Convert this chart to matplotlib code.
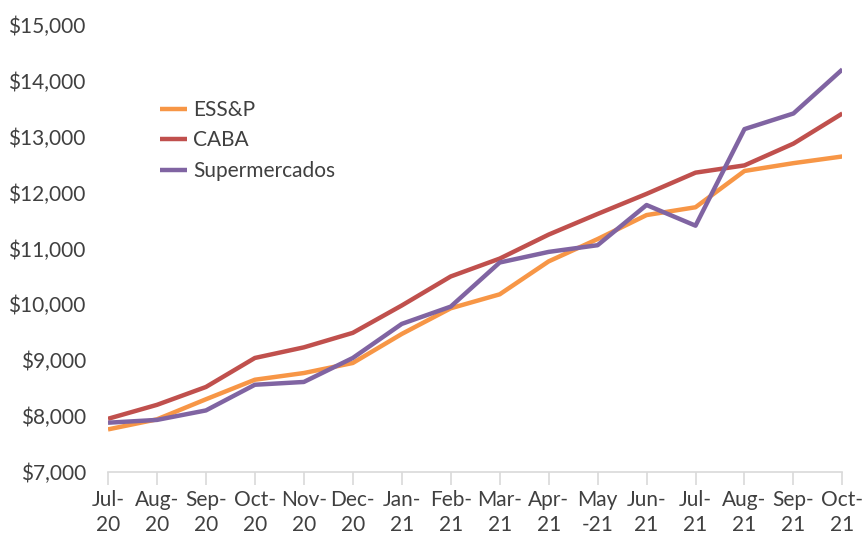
import matplotlib
matplotlib.use('Agg')
import matplotlib.pyplot as plt
from matplotlib.ticker import FuncFormatter

months = ['Jul-\n20', 'Aug-\n20', 'Sep-\n20', 'Oct-\n20', 'Nov-\n20', 'Dec-\n20',
          'Jan-\n21', 'Feb-\n21', 'Mar-\n21', 'Apr-\n21', 'May\n-21', 'Jun-\n21',
          'Jul-\n21', 'Aug-\n21', 'Sep-\n21', 'Oct-\n21']

essp = [7760, 7940, 8300, 8650, 8770, 8950, 9470, 9930,
        10180, 10770, 11170, 11600, 11740, 12390, 12530, 12650]
caba = [7950, 8200, 8520, 9040, 9230, 9490, 9980, 10500,
        10820, 11250, 11620, 11980, 12360, 12490, 12880, 13420]
super_ = [7880, 7930, 8100, 8560, 8610, 9040, 9650, 9960,
          10750, 10940, 11060, 11780, 11410, 13140, 13420, 14210]

plt.rcParams['font.family'] = ['Lato', 'DejaVu Sans']
fs = 15

fig = plt.figure(figsize=(8.64, 5.38), dpi=100)
ax = fig.add_axes([0.125, 0.123, 0.85, 0.83])

x = range(len(months))
ax.plot(x, essp, color='#F79646', lw=3.2, label='ESS&P', solid_capstyle='butt')
ax.plot(x, caba, color='#C0504D', lw=3.2, label='CABA', solid_capstyle='butt')
ax.plot(x, super_, color='#8064A2', lw=3.2, label='Supermercados', solid_capstyle='butt')

ax.set_ylim(7000, 15000)
ax.set_xlim(0, len(months) - 1)
ax.set_yticks(range(7000, 15001, 1000))
ax.yaxis.set_major_formatter(FuncFormatter(lambda v, p: '${:,.0f}'.format(v)))
ax.set_xticks(list(x))
ax.set_xticklabels(months)

for s in ['top', 'right', 'left']:
    ax.spines[s].set_visible(False)
ax.spines['bottom'].set_color('#d9d9d9')
ax.spines['bottom'].set_linewidth(1.2)
ax.tick_params(axis='y', length=0, pad=16, labelsize=fs, labelcolor='#404040')
ax.tick_params(axis='x', length=9, width=1.2, color='#d9d9d9', pad=4,
               labelsize=fs, labelcolor='#404040')
for lbl in ax.get_xticklabels():
    lbl.set_linespacing(1.35)

ax.legend(loc='upper left', bbox_to_anchor=(0.163, 0.849), bbox_transform=fig.transFigure,
          frameon=False, fontsize=fs, handlelength=1.3, handletextpad=0.3,
          labelspacing=0.5, labelcolor='#404040')

plt.savefig('out.png', dpi=100)
